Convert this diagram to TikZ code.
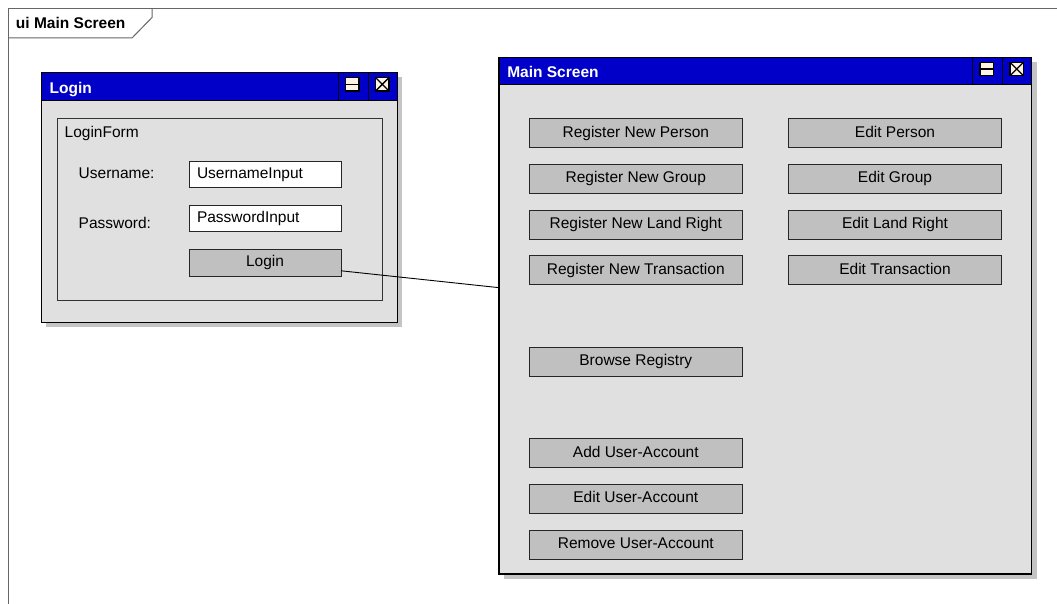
\documentclass[tikz,border=0pt]{standalone}
\usepackage{fontspec}
\setmainfont{Liberation Sans}
\usetikzlibrary{backgrounds}

\definecolor{barblue}{HTML}{0000C8}
\definecolor{winfill}{HTML}{E0E0E0}
\definecolor{btnfill}{HTML}{C0C0C0}
\definecolor{shadowgrey}{HTML}{C4C4C4}
\definecolor{iconfill}{HTML}{FFF4E4}
\definecolor{framegrey}{HTML}{666666}

\tikzset{
  every node/.style={inner sep=0pt, outer sep=0pt},
  txt/.style={font=\fontsize{15.5}{18}\selectfont, text=black},
  win/.style={draw=black, line width=1.3pt, fill=winfill, anchor=north west},
  titlebar/.style={draw=black, line width=1.3pt, fill=barblue, anchor=north west, minimum height=27.5pt},
  titletext/.style={font=\bfseries\fontsize{15.5}{18}\selectfont, text=white, anchor=base west},
  sep/.style={draw=black, line width=1pt},
  icon/.style={draw=black, line width=1.4pt, fill=iconfill, minimum width=13.4pt, minimum height=13.4pt},
  iconmark/.style={draw=black, line width=1.3pt},
  formbox/.style={draw=black!80, line width=0.8pt, fill=winfill, anchor=north west},
  btn/.style={draw=black!85, line width=0.9pt, fill=btnfill, minimum width=213pt, minimum height=29pt,
              txt, text height=11.2pt, text depth=3.2pt},
  inputbox/.style={draw=black!85, line width=0.9pt, fill=white, minimum height=26pt, txt,
                   text width=136pt, inner xsep=8pt, align=left, text height=11.2pt, text depth=3.2pt},
  label/.style={txt, anchor=base west},
  shade/.style={fill=shadowgrey},
  wire/.style={draw=black, line width=0.9pt},
  framing/.style={draw=framegrey, line width=1pt},
}

\begin{document}
\begin{tikzpicture}[x=1pt, y=-1pt]
  \useasboundingbox (0,0) rectangle (1057,604);

  % diagram frame and its name tab
  \draw[framing] (8,604) -- (8,9) -- (1057,9);
  \draw[framing] (8,38) -- (132,38) -- (152,17.5) -- (152,9);
  \node[font=\bfseries\fontsize{15.5}{18}\selectfont, anchor=base west] (framename) at (16,28.3) {ui Main Screen};

  % ---------------- Login window ----------------
  \node[win, minimum width=356pt, minimum height=250pt] (loginwin) at (41.7,72.7) {};
  \node[titlebar, minimum width=356pt] (logintitle) at (41.7,72.7) {};
  \node[titletext] (logintitletext) at (49.7,93.3) {Login};
  \draw[sep] (338,72.7) -- (338,100.2);
  \draw[sep] (368,72.7) -- (368,100.2);
  \node[icon] (loginrestore) at (352.3,84.3) {};
  \draw[iconmark] (loginrestore.west) -- (loginrestore.east);
  \node[icon] (loginclose) at (382.3,84.3) {};
  \draw[iconmark] (loginclose.north west) -- (loginclose.south east)
                  (loginclose.north east) -- (loginclose.south west);

  \node[formbox, minimum width=325pt, minimum height=181.7pt] (loginform) at (57,118.3) {};
  \node[label] (loginformname) at (64.7,137.7) {LoginForm};
  \node[label] (userlabel) at (78.7,178.3) {Username:};
  \node[label] (passlabel) at (78.7,228) {Password:};
  \node[inputbox] (userinput) at (265,174.2) {UsernameInput};
  \node[inputbox] (passinput) at (265,218.5) {PasswordInput};
  \node[btn, minimum width=152pt, minimum height=26.3pt] (loginbtn) at (265,262.8) {Login};

  % ---------------- Main Screen window ----------------
  \node[win, minimum width=532.7pt, minimum height=516.7pt] (mainwin) at (499,57.3) {};
  \node[titlebar, minimum width=532.7pt] (maintitle) at (499,57.3) {};
  \node[titletext] (maintitletext) at (507.3,77.3) {Main Screen};
  \draw[sep] (972.3,57.3) -- (972.3,84.8);
  \draw[sep] (1002.3,57.3) -- (1002.3,84.8);
  \node[icon] (mainrestore) at (986.5,69) {};
  \draw[iconmark] (mainrestore.west) -- (mainrestore.east);
  \node[icon] (mainclose) at (1016.7,69) {};
  \draw[iconmark] (mainclose.north west) -- (mainclose.south east)
                  (mainclose.north east) -- (mainclose.south west);

  \node[btn] (regperson) at (635.8,133.2) {Register New Person};
  \node[btn] (reggroup)  at (635.8,178.7) {Register New Group};
  \node[btn] (regland)   at (635.8,224.5) {Register New Land Right};
  \node[btn] (regtrans)  at (635.8,270.3) {Register New Transaction};

  \node[btn] (editperson) at (895,133.2) {Edit Person};
  \node[btn] (editgroup)  at (895,178.7) {Edit Group};
  \node[btn] (editland)   at (895,224.5) {Edit Land Right};
  \node[btn] (edittrans)  at (895,270.3) {Edit Transaction};

  \node[btn] (browse)     at (635.8,361.8) {Browse Registry};
  \node[btn] (adduser)    at (635.8,453)   {Add User-Account};
  \node[btn] (edituser)   at (635.8,498.7) {Edit User-Account};
  \node[btn] (removeuser) at (635.8,544.7) {Remove User-Account};

  % link from the login button to the main screen
  \draw[wire] (loginbtn.-6) -- (mainwin.174);

  % white page and window drop shadows, behind everything
  \begin{scope}[on background layer]
    \fill[white] (0,0) rectangle (1057,604);
    \fill[shade] ([xshift=4.7pt,yshift=-4.7pt]loginwin.north west) rectangle ([xshift=4.7pt,yshift=-4.7pt]loginwin.south east);
    \fill[shade] ([xshift=5pt,yshift=-5pt]mainwin.north west) rectangle ([xshift=5pt,yshift=-5pt]mainwin.south east);
  \end{scope}
\end{tikzpicture}
\end{document}
